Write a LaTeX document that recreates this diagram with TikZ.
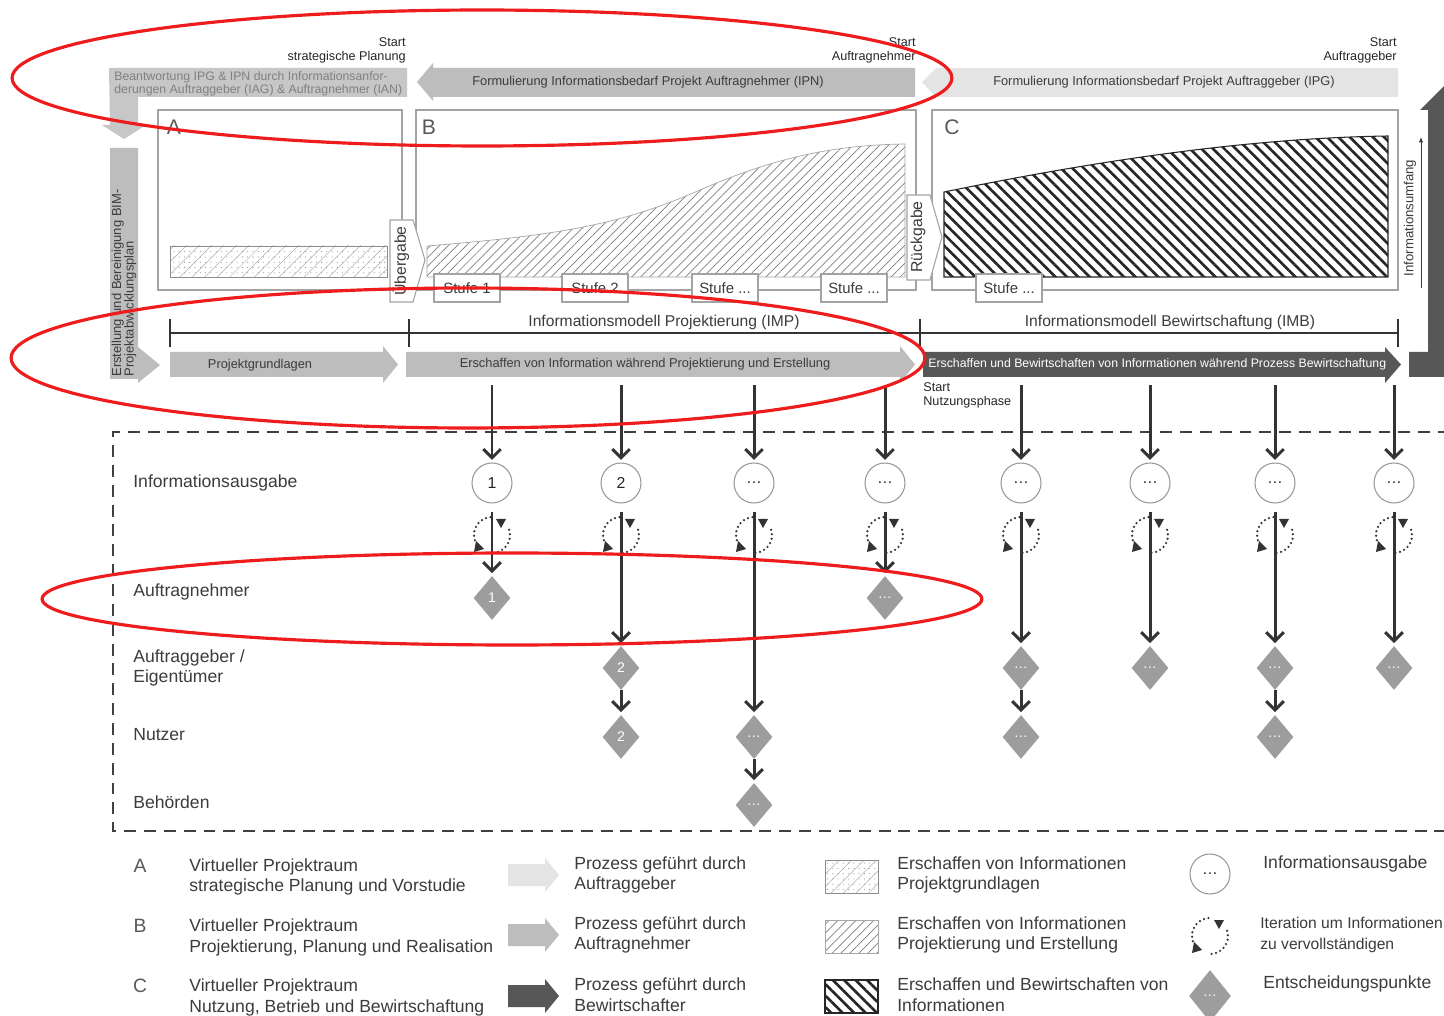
\documentclass[tikz,border=0pt]{standalone}
\usepackage{fontspec}
\setmainfont{Liberation Sans}
\usetikzlibrary{arrows.meta,shapes.geometric,patterns.meta}

\definecolor{ageber}{HTML}{E4E4E4}
\definecolor{anehmer}{HTML}{BDBDBD}
\definecolor{bewirt}{HTML}{575757}
\definecolor{raute}{HTML}{9D9D9D}
\definecolor{rahmen}{HTML}{A3A3A3}
\definecolor{schrift}{HTML}{3C3C3C}
\definecolor{markrot}{HTML}{EE1C1C}

\tikzset{
  pfeiltext/.style={font=\fontsize{7.3}{8.2}\selectfont, text=schrift, inner sep=0pt},
  starttext/.style={font=\fontsize{7.2}{8}\selectfont, text=black!85, inner sep=0pt},
  modelltext/.style={font=\fontsize{8.9}{10}\selectfont, text=schrift, inner sep=0pt},
  tabtext/.style={font=\fontsize{9}{10}\selectfont, text=schrift, inner sep=0pt, rotate=90},
  raumrahmen/.style={draw=rahmen, line width=0.6pt},
  stufe/.style={draw=rahmen, fill=white, line width=0.6pt, minimum width=1.32cm, minimum height=0.56cm, inner sep=0pt, font=\fontsize{8.5}{10}\selectfont, text=schrift},
  zeile/.style={anchor=west, align=left, inner sep=0pt, font=\fontsize{10}{11.9}\selectfont, text=schrift},
  buchstabe/.style={inner sep=0pt, font=\fontsize{12}{12}\selectfont, text=black!65},
  ausgabe/.style={circle, draw=black!40, fill=white, line width=0.6pt, minimum size=0.8cm, inner sep=0pt, font=\fontsize{9}{9}\selectfont, text=black!85},
  entscheid/.style={diamond, fill=raute, minimum width=0.74cm, minimum height=0.88cm, inner sep=0pt, font=\fontsize{8}{8}\selectfont, text=white},
  fluss/.style={draw=black!80, line width=1.7pt, shorten >=0.05cm, -{Straight Barb[length=5pt,width=10pt]}},
  ab/.style={fluss, shorten <=0.16cm},
  schleife/.style={draw=black!80, line width=1.4pt, dash pattern=on 0pt off 2.6pt, line cap=round},
  iteration/.pic={
    \draw[schleife] (95:0.36cm) arc[start angle=95, end angle=208, radius=0.36cm];
    \draw[schleife] (-85:0.36cm) arc[start angle=-85, end angle=25, radius=0.36cm];
    \fill[black!80] (4,-16) -- (14,-16) -- (9,-7) -- cycle;
    \fill[black!80] (-18,17) -- (-16,6) -- (-8,14) -- cycle;
  },
  grundlagenlinien/.style={pattern={Lines[angle=45,distance=5pt,line width=0.3pt]}, pattern color=black!30},
  grundlagen/.style={pattern={Dots[distance=3pt,radius=0.3pt]}, pattern color=black!45, draw=black!45, line width=0.4pt},
  projektierung/.style={pattern={Lines[angle=45,distance=3.6pt,line width=0.4pt]}, pattern color=black!50, draw=black!35, line width=0.4pt},
  bewirtschaftung/.style={pattern={Lines[angle=-45,distance=4.6pt,line width=1.5pt]}, pattern color=black!85, draw=black!85, line width=0.6pt},
  zeitachse/.style={draw=black!80, line width=1.4pt},
  markierung/.style={draw=markrot, line width=1.8pt}
}

\begin{document}
\begin{tikzpicture}[x=0.02cm, y=-0.02cm]
  \useasboundingbox (0,0) rectangle (1444,1016);
  \fill[white] (0,0) rectangle (1444,1016);

  % Informationsbedarf oben
  \node[starttext, align=right, anchor=north east] (startsp) at (406,37) {Start\\strategische Planung};
  \node[starttext, align=right, anchor=north east] (startan) at (916,37) {Start\\Auftragnehmer};
  \node[starttext, align=right, anchor=north east] (startag) at (1397,37) {Start\\Auftraggeber};

  \fill[anehmer!85] (109,68) -- (407,68) -- (407,97) -- (138,97) -- (138,125) -- (146,125) -- (124,139) -- (102,125) -- (110,125) -- cycle;
  \node[pfeiltext, font=\fontsize{7}{7.6}\selectfont, text=black!50, align=left, anchor=west] (beantwortung) at (114,84) {Beantwortung IPG \& IPN durch Informationsanfor-\\derungen Auftraggeber (IAG) \& Auftragnehmer (IAN)};

  \fill[anehmer] (417,82) -- (433,63) -- (433,68) -- (915,68) -- (915,97) -- (433,97) -- (433,101) -- cycle;
  \node[pfeiltext] (ipn) at (648,82) {Formulierung Informationsbedarf Projekt Auftragnehmer (IPN)};
  \fill[ageber] (922,82) -- (936,68) -- (1398,68) -- (1398,97) -- (936,97) -- cycle;
  \node[pfeiltext] (ipg) at (1164,82) {Formulierung Informationsbedarf Projekt Auftraggeber (IPG)};

  % BIM-Projektabwicklungsplan
  \fill[anehmer] (110,148) -- (138,148) -- (138,347) -- (160,365) -- (138,383) -- (138,379) -- (110,379) -- cycle;
  \node[pfeiltext, font=\fontsize{7.4}{7}\selectfont, rotate=90, anchor=west, align=left] (bap) at (124,377) {Erstellung und Bereinigung BIM-\\Projektabwicklungsplan};

  % virtuelle Projektraeume
  \draw[raumrahmen] (158,110) rectangle (402,290);
  \draw[raumrahmen] (416,110) rectangle (916,290);
  \draw[raumrahmen] (932,110) rectangle (1398,290);
  \node[buchstabe] (raumA) at (174,127) {A};
  \node[buchstabe] (raumB) at (429,127) {B};
  \node[buchstabe] (raumC) at (952,127) {C};

  \fill[grundlagenlinien] (170,246) rectangle (387,277);
  \filldraw[grundlagen] (170,246) rectangle (387,277);
  \filldraw[projektierung] (427,277) -- (427,246) .. controls (560,235) and (620,225) .. (700,190) .. controls (780,155) and (840,145) .. (905,144) -- (905,277) -- cycle;
  \filldraw[bewirtschaftung] (944,277) -- (944,192) .. controls (1100,160) and (1250,138) .. (1388,136) -- (1388,277) -- cycle;

  \filldraw[fill=white, draw=rahmen, line width=0.6pt] (390,220) -- (413,220) -- (425,260) -- (413,302) -- (390,302) -- cycle;
  \node[tabtext] (uebergabe) at (401,261) {Übergabe};
  \filldraw[fill=white, draw=rahmen, line width=0.6pt] (907,195) -- (930,195) -- (942,237) -- (930,280) -- (907,280) -- cycle;
  \node[tabtext] (rueckgabe) at (918,237) {Rückgabe};

  \node[stufe] (stufe1) at (467,288) {Stufe 1};
  \node[stufe] (stufe2) at (595,288) {Stufe 2};
  \node[stufe] (stufe3) at (725,288) {Stufe ...};
  \node[stufe] (stufe4) at (854,288) {Stufe ...};
  \node[stufe] (stufe5) at (1009,288) {Stufe ...};

  % Informationsumfang
  \fill[bewirt] (1409,377) -- (1409,352) -- (1428,352) -- (1428,110) -- (1420,110) -- (1452,78) -- (1484,110) -- (1476,110) -- (1476,377) -- cycle;
  \node[pfeiltext, font=\fontsize{7.5}{8}\selectfont, rotate=90] (umfang) at (1410,218) {Informationsumfang};
  \coordinate (umfangu) at (1421,288);
  \coordinate (umfango) at (1421,137);
  \draw[draw=schrift, line width=0.5pt, -{Latex[length=3pt,width=2.5pt]}] (umfangu) -- (umfango);

  % Informationsmodelle
  \draw[zeitachse] (170,333) -- (1398,333);
  \foreach \x in {170,409,920,1398}
    \draw[zeitachse] (\x,319) -- (\x,347);
  \node[modelltext] (imp) at (664,322) {Informationsmodell Projektierung (IMP)};
  \node[modelltext] (imb) at (1170,322) {Informationsmodell Bewirtschaftung (IMB)};

  % Prozesse
  \fill[anehmer] (170,352) -- (383,352) -- (383,346) -- (398,364.5) -- (383,383) -- (383,377) -- (170,377) -- cycle;
  \node[pfeiltext] (grundl) at (260,365) {Projektgrundlagen};
  \fill[anehmer] (406,352) -- (900,352) -- (900,346) -- (915,364.5) -- (900,383) -- (900,377) -- (406,377) -- cycle;
  \node[pfeiltext] (erschaffen) at (645,364) {Erschaffen von Information während Projektierung und Erstellung};
  \fill[bewirt] (923,352) -- (1385,352) -- (1385,347) -- (1401,364.5) -- (1385,383) -- (1385,377) -- (923,377) -- cycle;
  \node[pfeiltext, font=\fontsize{7}{8}\selectfont, text=white, anchor=west] (bewirtschaften) at (928,364) {Erschaffen und Bewirtschaften von Informationen während Prozess Bewirtschaftung};
  \node[starttext, align=left, anchor=north west] (startnp) at (923,382) {Start\\Nutzungsphase};

  % Beteiligte
  \draw[black!75, line width=1.1pt, dash pattern=on 6.8pt off 4.5pt] (1450,432) -- (113,432) -- (113,831) -- (1450,831);
  \node[zeile] (zausgabe) at (133,483) {Informationsausgabe};
  \node[zeile] (znehmer) at (133,592) {Auftragnehmer};
  \node[zeile] (zgeber) at (133,668) {Auftraggeber /\\Eigentümer};
  \node[zeile] (znutzer) at (133,735) {Nutzer};
  \node[zeile] (zbehoerden) at (133,802) {Behörden};

  \foreach \x/\n [count=\i] in {492/1, 621/2, 754/\dots, 885/\dots, 1021/\dots, 1150/\dots, 1275/\dots, 1394/\dots} {
    \coordinate (oben\i) at (\x,385);
    \node[ausgabe] (aus\i) at (\x,483) {\n};
    \draw[fluss] (oben\i) -- (aus\i);
    \pic at (\x,535) {iteration};
  }

  \node[entscheid] (e1) at (492,598) {1};
  \node[entscheid] (e2) at (621,668) {2};
  \node[entscheid] (e3) at (621,737) {2};
  \node[entscheid] (e4) at (754,737) {\dots};
  \node[entscheid] (e5) at (754,805) {\dots};
  \node[entscheid] (e6) at (885,598) {\dots};
  \node[entscheid] (e7) at (1021,668) {\dots};
  \node[entscheid] (e8) at (1021,737) {\dots};
  \node[entscheid] (e9) at (1150,668) {\dots};
  \node[entscheid] (e10) at (1275,668) {\dots};
  \node[entscheid] (e11) at (1275,737) {\dots};
  \node[entscheid] (e12) at (1394,668) {\dots};

  \draw[ab] (aus1) -- (e1);
  \draw[ab] (aus2) -- (e2);
  \draw[fluss] (e2) -- (e3);
  \draw[ab] (aus3) -- (e4);
  \draw[fluss] (e4) -- (e5);
  \draw[ab] (aus4) -- (e6);
  \draw[ab] (aus5) -- (e7);
  \draw[fluss] (e7) -- (e8);
  \draw[ab] (aus6) -- (e9);
  \draw[ab] (aus7) -- (e10);
  \draw[fluss] (e10) -- (e11);
  \draw[ab] (aus8) -- (e12);

  % Legende
  \node[buchstabe, font=\fontsize{11}{11}\selectfont] (legA) at (140,866) {A};
  \node[buchstabe, font=\fontsize{11}{11}\selectfont] (legB) at (140,926) {B};
  \node[buchstabe, font=\fontsize{11}{11}\selectfont] (legC) at (140,986) {C};
  \node[zeile] (legtA) at (189,877) {Virtueller Projektraum\\strategische Planung und Vorstudie};
  \node[zeile] (legtB) at (189,937) {Virtueller Projektraum\\Projektierung, Planung und Realisation};
  \node[zeile] (legtC) at (189,997) {Virtueller Projektraum\\Nutzung, Betrieb und Bewirtschaftung};

  \fill[ageber] (508,864) -- (545,864) -- (545,858) -- (559,875) -- (545,892) -- (545,886) -- (508,886) -- cycle;
  \fill[anehmer] (508,924) -- (545,924) -- (545,918) -- (559,935) -- (545,952) -- (545,946) -- (508,946) -- cycle;
  \fill[bewirt] (508,985) -- (545,985) -- (545,979) -- (559,996) -- (545,1013) -- (545,1007) -- (508,1007) -- cycle;
  \node[zeile] (legpA) at (574,875) {Prozess geführt durch\\Auftraggeber};
  \node[zeile] (legpB) at (574,935) {Prozess geführt durch\\Auftragnehmer};
  \node[zeile] (legpC) at (574,995) {Prozess geführt durch\\Bewirtschafter};

  \fill[grundlagenlinien] (825,860) rectangle (878,893);
  \filldraw[grundlagen] (825,860) rectangle (878,893);
  \filldraw[projektierung] (825,920) rectangle (878,953);
  \filldraw[bewirtschaftung] (825,980) rectangle (878,1013);
  \node[zeile] (legsA) at (897,875) {Erschaffen von Informationen\\Projektgrundlagen};
  \node[zeile] (legsB) at (897,935) {Erschaffen von Informationen\\Projektierung und Erstellung};
  \node[zeile] (legsC) at (897,995) {Erschaffen und Bewirtschaften von\\Informationen};

  \node[ausgabe] (legaus) at (1210,874) {\dots};
  \pic at (1210,936) {iteration};
  \node[entscheid, minimum width=0.84cm, minimum height=1.04cm] (legent) at (1210,996) {\dots};
  \node[zeile] (legoA) at (1263,864) {Informationsausgabe};
  \node[zeile, font=\fontsize{8.9}{11.9}\selectfont] (legoB) at (1260,935) {Iteration um Informationen\\zu vervollständigen};
  \node[zeile] (legoC) at (1263,984) {Entscheidungspunkte};

  % Markierungen
  \draw[markierung] (482,78) ellipse [x radius=9.4cm, y radius=1.36cm];
  \draw[markierung] (468,358) ellipse [x radius=9.14cm, y radius=1.4cm];
  \draw[markierung] (512,599) ellipse [x radius=9.4cm, y radius=0.92cm];
\end{tikzpicture}
\end{document}
